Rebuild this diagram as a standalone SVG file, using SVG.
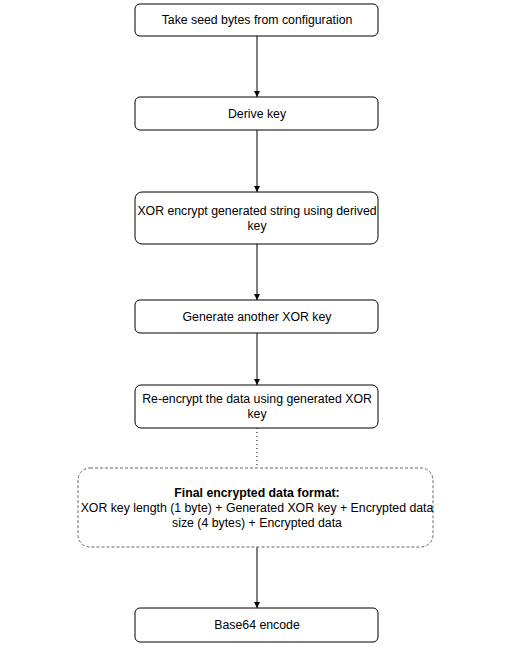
<svg xmlns="http://www.w3.org/2000/svg" width="510" height="660" viewBox="0 0 510 660">
<style>
.box{fill:#fff;stroke:#000;stroke-width:1}
.dbox{fill:#fff;stroke:#666;stroke-width:1;stroke-dasharray:3 2}
.t{font-family:"Liberation Sans",Arial,sans-serif;font-size:12.3px;fill:#000;text-anchor:middle}
.b{font-weight:bold}
.c{stroke:#000;stroke-width:1;fill:none}
</style>
<defs>
<marker id="ah" markerWidth="8" markerHeight="8" refX="6" refY="3.5" orient="auto" markerUnits="userSpaceOnUse">
<path d="M0,0.5 L6,3.5 L0,6.5 Z" fill="#000"/>
</marker>
</defs>
<rect width="510" height="660" fill="#fff"/>
<g id="connectors">
<line class="c" x1="257" y1="36" x2="257" y2="97" marker-end="url(#ah)"/>
<line class="c" x1="257" y1="130" x2="257" y2="192" marker-end="url(#ah)"/>
<line class="c" x1="257" y1="244" x2="257" y2="300" marker-end="url(#ah)"/>
<line class="c" x1="257" y1="333" x2="257" y2="385" marker-end="url(#ah)"/>
<line class="c" x1="257" y1="428" x2="257" y2="468" stroke-dasharray="1 3"/>
<line class="c" x1="257" y1="547" x2="257" y2="608" marker-end="url(#ah)"/>
</g>
<g id="n1"><rect class="box" x="135" y="4" width="243" height="32" rx="5"/><text class="t" x="257" y="24">Take seed bytes from configuration</text></g>
<g id="n2"><rect class="box" x="135" y="97" width="243" height="33" rx="5"/><text class="t" x="257" y="118">Derive key</text></g>
<g id="n3"><rect class="box" x="135" y="192" width="243" height="52" rx="7"/><text class="t" x="257" y="215">XOR encrypt generated string using derived</text><text class="t" x="257" y="230">key</text></g>
<g id="n4"><rect class="box" x="135" y="300" width="243" height="33" rx="5"/><text class="t" x="257" y="321">Generate another XOR key</text></g>
<g id="n5"><rect class="box" x="135" y="385" width="243" height="43" rx="6"/><text class="t" x="257" y="403">Re-encrypt the data using generated XOR</text><text class="t" x="257" y="418">key</text></g>
<g id="n6"><rect class="dbox" x="78" y="468" width="355" height="79" rx="12"/><text class="t b" x="257" y="497">Final encrypted data format:</text><text class="t" x="257" y="512">XOR key length (1 byte) + Generated XOR key + Encrypted data</text><text class="t" x="257" y="527">size (4 bytes) + Encrypted data</text></g>
<g id="n7"><rect class="box" x="135" y="608" width="243" height="34" rx="5"/><text class="t" x="257" y="629">Base64 encode</text></g>
</svg>
